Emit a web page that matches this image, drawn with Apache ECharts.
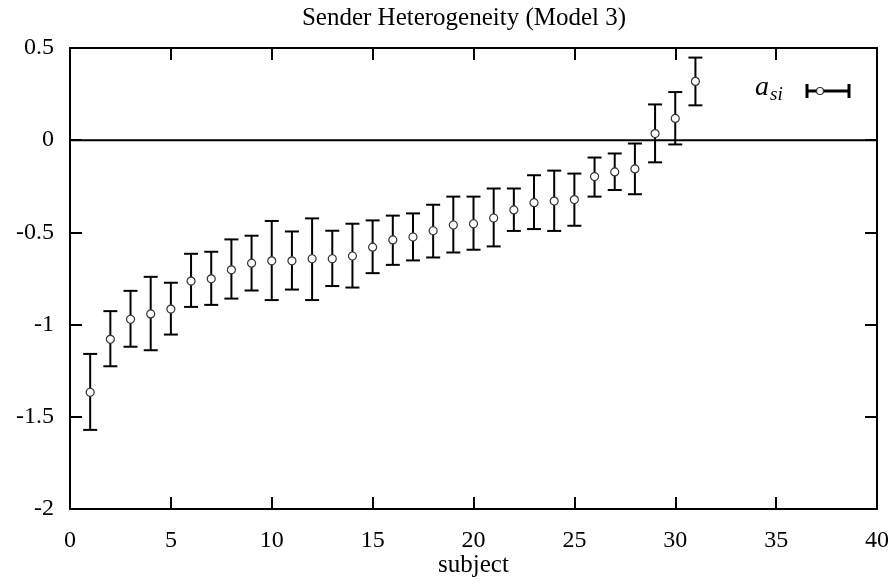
<!DOCTYPE html>
<html>
<head>
<meta charset="utf-8">
<script src="https://cdn.jsdelivr.net/npm/echarts@6/dist/echarts.min.js"></script>
<style>
  html, body { margin: 0; padding: 0; background: #fff; }
  #chart { width: 893px; height: 584px; }
</style>
</head>
<body>
<div id="chart"></div>
<script>
// subject index and estimated a_si with its error range
var subjects = [1, 2, 3, 4, 5, 6, 7, 8, 9, 10, 11, 12, 13, 14, 15, 16, 17, 18, 19, 20,
                21, 22, 23, 24, 25, 26, 27, 28, 29, 30, 31];
var estimate = [-1.367, -1.080, -0.971, -0.942, -0.916, -0.764, -0.752, -0.703, -0.667, -0.654,
                -0.654, -0.643, -0.643, -0.628, -0.580, -0.541, -0.525, -0.491, -0.460, -0.453,
                -0.422, -0.378, -0.339, -0.330, -0.322, -0.197, -0.172, -0.156, 0.036, 0.118, 0.319];
var lower = [-1.571, -1.226, -1.120, -1.139, -1.054, -0.904, -0.893, -0.859, -0.815, -0.867,
             -0.810, -0.867, -0.791, -0.799, -0.721, -0.676, -0.652, -0.636, -0.609, -0.594,
             -0.576, -0.492, -0.482, -0.492, -0.464, -0.306, -0.270, -0.293, -0.120, -0.023, 0.189];
var upper = [-1.159, -0.927, -0.817, -0.741, -0.773, -0.616, -0.605, -0.538, -0.518, -0.438,
             -0.495, -0.424, -0.491, -0.453, -0.435, -0.409, -0.397, -0.350, -0.306, -0.306,
             -0.262, -0.262, -0.190, -0.165, -0.181, -0.094, -0.072, -0.018, 0.194, 0.261, 0.448];

var xTicks = [0, 5, 10, 15, 20, 25, 30, 35, 40];
var yTicks = [-2, -1.5, -1, -0.5, 0, 0.5];

var serif = '"Liberation Serif", "DejaVu Serif", serif';

var barData = [];
var pointData = [];
for (var i = 0; i < subjects.length; i++) {
    barData.push([subjects[i], lower[i], upper[i]]);
    pointData.push([subjects[i], estimate[i]]);
}

function errorBar(params, api) {
    var lo = api.coord([api.value(0), api.value(1)]);
    var hi = api.coord([api.value(0), api.value(2)]);
    var half = 7;
    var st = { stroke: '#000', lineWidth: 2 };
    return {
        type: 'group',
        children: [
            { type: 'line', shape: { x1: lo[0], y1: lo[1], x2: hi[0], y2: hi[1] }, style: st },
            { type: 'line', shape: { x1: lo[0] - half, y1: lo[1], x2: lo[0] + half, y2: lo[1] }, style: st },
            { type: 'line', shape: { x1: hi[0] - half, y1: hi[1], x2: hi[0] + half, y2: hi[1] }, style: st }
        ]
    };
}

var chart = echarts.init(document.getElementById('chart'));

var axisLine = { show: true, onZero: false, lineStyle: { color: '#000', width: 2 } };
var tick = { show: true, inside: true, length: 12, lineStyle: { color: '#000', width: 2 } };

var option = {
    backgroundColor: '#fff',
    animation: false,
    title: {
        text: 'Sender Heterogeneity (Model 3)',
        left: 459,
        top: 1,
        textAlign: 'center',
        textStyle: { fontFamily: serif, fontSize: 25, fontWeight: 'normal', color: '#000' }
    },
    grid: { left: 70, right: 16, top: 48, bottom: 75, outerBoundsMode: 'none', containLabel: false },
    xAxis: [{
        type: 'value',
        min: 0, max: 40, interval: 5,
        name: 'subject',
        nameLocation: 'middle',
        nameGap: 44,
        nameMoveOverlap: false,
        nameTextStyle: { fontFamily: serif, fontSize: 25, color: '#000' },
        axisLine: axisLine,
        axisTick: tick,
        axisLabel: {
            margin: 20, fontFamily: serif, fontSize: 24, color: '#000',
            customValues: xTicks
        },
        splitLine: { show: false }
    }, {
        type: 'value',
        position: 'top',
        min: 0, max: 40, interval: 5,
        axisLine: axisLine,
        axisTick: tick,
        axisLabel: { show: false },
        splitLine: { show: false }
    }],
    yAxis: [{
        type: 'value',
        min: -2, max: 0.5, interval: 0.5,
        axisLine: axisLine,
        axisTick: tick,
        axisLabel: {
            margin: 16, fontFamily: serif, fontSize: 24, color: '#000',
            customValues: yTicks,
            formatter: function (v) { return String(v); }
        },
        splitLine: { show: false }
    }, {
        type: 'value',
        position: 'right',
        min: -2, max: 0.5, interval: 0.5,
        axisLine: axisLine,
        axisTick: tick,
        axisLabel: { show: false },
        splitLine: { show: false }
    }],
    series: [{
        name: 'zero',
        type: 'line',
        data: [[0, 0], [40, 0]],
        symbol: 'none',
        silent: true,
        lineStyle: { color: '#000', width: 2 }
    }, {
        name: 'a_si',
        type: 'custom',
        renderItem: errorBar,
        data: barData,
        z: 3
    }, {
        name: 'a_si points',
        type: 'scatter',
        data: pointData,
        symbol: 'circle',
        symbolSize: 8,
        itemStyle: { color: '#fff', borderColor: '#333', borderWidth: 1.2, opacity: 1 },
        z: 4
    }],
    graphic: [{
        type: 'text',
        left: 755, top: 74,
        style: {
            text: '{a|a}{s|si}',
            rich: {
                a: { fontFamily: serif, fontStyle: 'italic', fontSize: 28, fill: '#000' },
                s: { fontFamily: serif, fontStyle: 'italic', fontSize: 19, fill: '#000', padding: [14, 0, 0, 1] }
            }
        }
    }, {
        type: 'group',
        children: [
            { type: 'line', shape: { x1: 807, y1: 91, x2: 849, y2: 91 }, style: { stroke: '#000', lineWidth: 3 } },
            { type: 'line', shape: { x1: 807, y1: 84, x2: 807, y2: 98 }, style: { stroke: '#000', lineWidth: 3 } },
            { type: 'line', shape: { x1: 849, y1: 84, x2: 849, y2: 98 }, style: { stroke: '#000', lineWidth: 3 } },
            { type: 'circle', shape: { cx: 820, cy: 91, r: 3.5 }, style: { fill: '#fff', stroke: '#333', lineWidth: 1.2 } }
        ]
    }]
};

chart.setOption(option);
</script>
</body>
</html>
